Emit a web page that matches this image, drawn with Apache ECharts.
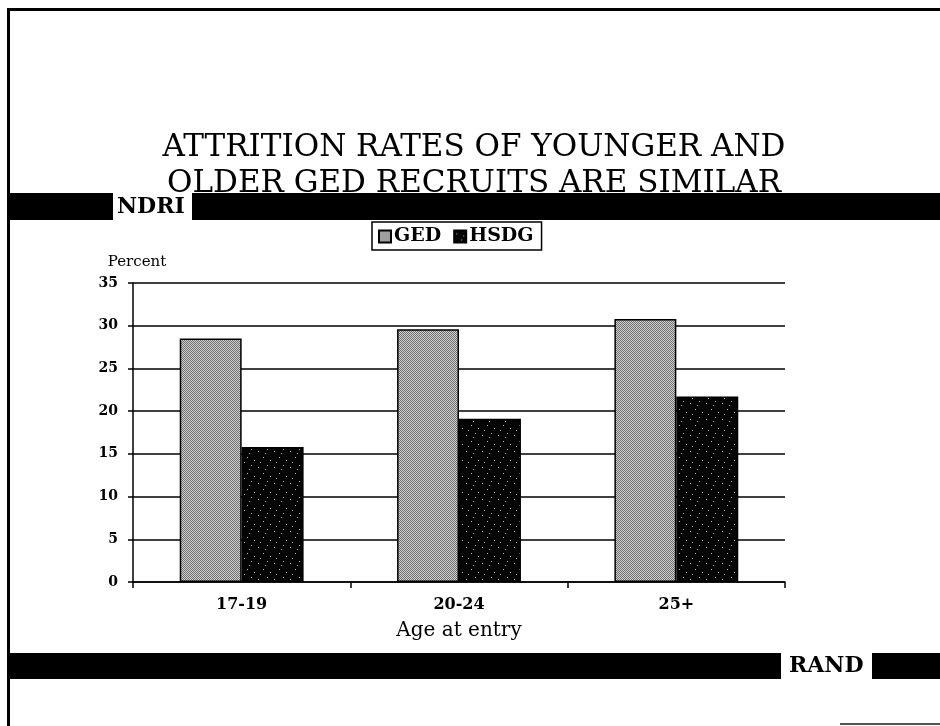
<!DOCTYPE html>
<html>
<head>
<meta charset="utf-8">
<script src="https://cdn.jsdelivr.net/npm/echarts@6/dist/echarts.min.js"></script>
<style>
html,body{margin:0;padding:0;background:#fff;}
#c{width:940px;height:726px;}
</style>
</head>
<body>
<div id="c"></div>
<script>
var categories = ['17-19', '20-24', '25+'];
var gedValues = [28.5, 29.6, 30.8];
var hsdgValues = [15.8, 19.1, 21.7];
var yTicks = { min: 0, max: 35, interval: 5 };

function makePattern(a, b, specks) {
  var cv = document.createElement('canvas');
  cv.width = 16; cv.height = 16;
  var ctx = cv.getContext('2d');
  for (var y = 0; y < 16; y++) {
    for (var x = 0; x < 16; x++) {
      ctx.fillStyle = ((x + y) % 2 === 0) ? a : b;
      ctx.fillRect(x, y, 1, 1);
    }
  }
  if (specks) {
    ctx.fillStyle = '#bbbbbb';
    specks.forEach(function (p) { ctx.fillRect(p[0], p[1], 1, 1); });
  }
  return cv;
}
var gedPattern = makePattern('#6f6f6f', '#d0d0d0');
var hsdgPattern = makePattern('#050505', '#050505', [[2,3],[11,1],[7,9],[14,12],[4,14],[9,5]]);

var serif = '"DejaVu Serif", "Liberation Serif", serif';
var chart = echarts.init(document.getElementById('c'), null, { renderer: 'canvas' });
chart.setOption({
  backgroundColor: '#ffffff',
  animation: false,
  title: {
    text: 'ATTRITION RATES OF YOUNGER AND\nOLDER GED RECRUITS ARE SIMILAR',
    left: 469, top: 125, textAlign: 'center',
    textStyle: { fontFamily: serif, fontSize: 31, fontWeight: 'normal', color: '#000', lineHeight: 36 }
  },
  legend: {
    data: ['GED', 'HSDG'],
    left: 372, top: 222,
    itemWidth: 12, itemHeight: 12, itemGap: 12,
    borderColor: '#000', borderWidth: 1.5, padding: [5, 8, 4, 6],
    textStyle: { fontFamily: serif, fontSize: 19, fontWeight: 'bold', color: '#000', padding: [0, 0, 0, -2] },
    icon: 'rect'
  },
  grid: { left: 133, right: 155, top: 283, bottom: 144 },
  xAxis: {
    type: 'category',
    data: categories,
    name: 'Age at entry',
    nameLocation: 'middle',
    nameGap: 39,
    nameTextStyle: { fontFamily: serif, fontSize: 20, color: '#000' },
    axisLine: { lineStyle: { color: '#000', width: 1.5 } },
    axisTick: { show: true, length: 6, lineStyle: { color: '#000', width: 1.5 } },
    axisLabel: { fontFamily: serif, fontSize: 16, fontWeight: 'bold', color: '#000', margin: 15 }
  },
  yAxis: {
    type: 'value',
    min: yTicks.min, max: yTicks.max, interval: yTicks.interval,
    name: 'Percent',
    nameLocation: 'end',
    nameGap: 13,
    nameTextStyle: { fontFamily: serif, fontSize: 15, color: '#000', align: 'center', padding: [0, 0, 0, 8] },
    axisLine: { show: true, lineStyle: { color: '#000', width: 1.5 } },
    axisTick: { show: true, length: 5, lineStyle: { color: '#000', width: 1.5 } },
    axisLabel: { fontFamily: serif, fontSize: 14, fontWeight: 'bold', color: '#000', margin: 15 },
    splitLine: { show: true, lineStyle: { color: '#000', width: 1.5 } }
  },
  series: [
    {
      name: 'GED', type: 'bar', data: gedValues,
      barGap: '0%', barCategoryGap: '43%',
      itemStyle: { color: { image: gedPattern, repeat: 'repeat' }, borderColor: '#000', borderWidth: 1.5 }
    },
    {
      name: 'HSDG', type: 'bar', data: hsdgValues,
      barGap: '0%', barCategoryGap: '43%',
      itemStyle: { color: { image: hsdgPattern, repeat: 'repeat' }, borderColor: '#000', borderWidth: 1.5 }
    }
  ],
  graphic: [
    { type: 'rect', shape: { x: 7, y: 8, width: 933, height: 3 }, style: { fill: '#000' } },
    { type: 'rect', shape: { x: 7, y: 8, width: 3, height: 718 }, style: { fill: '#000' } },
    { type: 'rect', shape: { x: 840, y: 723, width: 100, height: 2 }, style: { fill: '#555' } },
    { type: 'rect', shape: { x: 7, y: 193, width: 106, height: 27 }, style: { fill: '#000' } },
    { type: 'text', left: 117, top: 196, style: { text: 'NDRI', font: 'bold 22px ' + serif, fill: '#000' } },
    { type: 'rect', shape: { x: 192, y: 193, width: 748, height: 27 }, style: { fill: '#000' } },
    { type: 'rect', shape: { x: 7, y: 653, width: 774, height: 26 }, style: { fill: '#000' } },
    { type: 'text', left: 789, top: 655, style: { text: 'RAND', font: 'bold 22px ' + serif, fill: '#000' } },
    { type: 'rect', shape: { x: 872, y: 653, width: 68, height: 26 }, style: { fill: '#000' } }
  ]
});
</script>
</body>
</html>
